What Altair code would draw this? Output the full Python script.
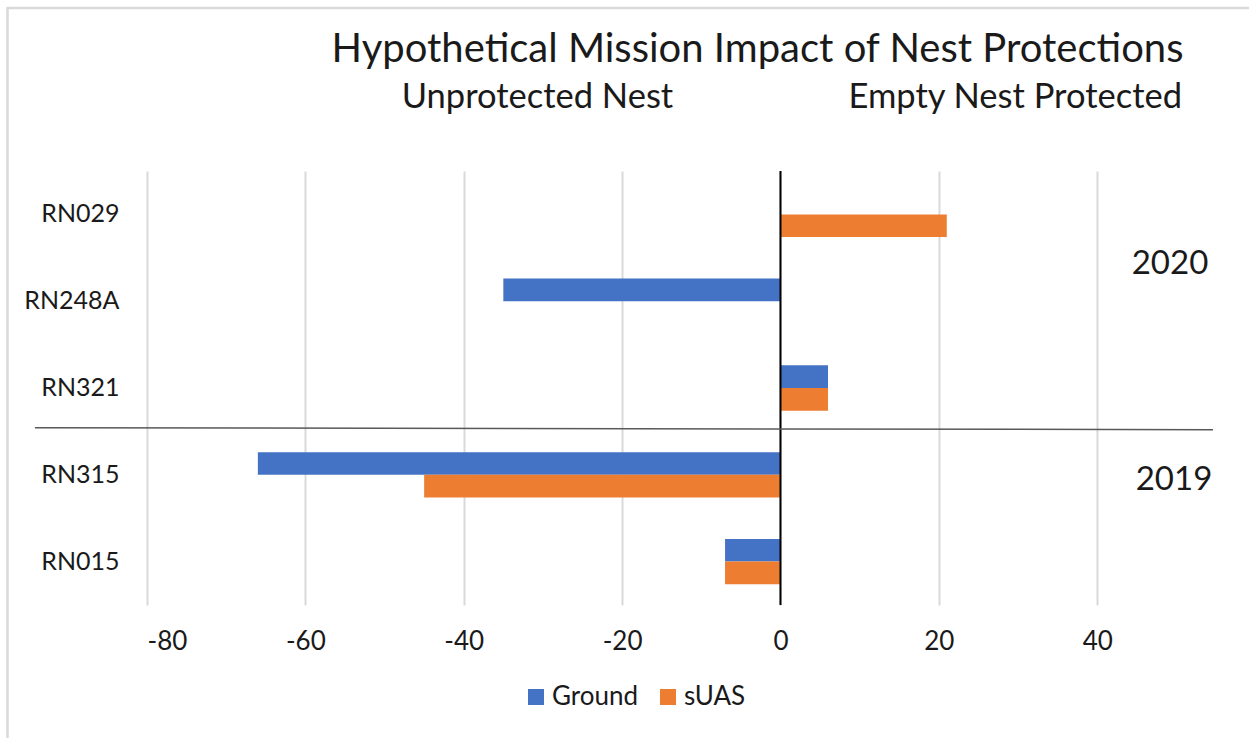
import altair as alt
import pandas as pd

# Nest IDs (top to bottom) and the mission impact for each survey method
nests = ["RN029", "RN248A", "RN321", "RN315", "RN015"]
ground = [0, -35, 6, -66, -7]
suas = [21, 0, 6, -45, -7]
series = ["Ground", "sUAS"]
colors = ["#4472C4", "#ED7D31"]
x_ticks = [-80, -60, -40, -20, 0, 20, 40]

title_text = "Hypothetical Mission Impact of Nest Protections"
left_note = "Unprotected Nest"
right_note = "Empty Nest Protected"
years = ["2020", "2019"]

FONT = "Lato"
INK = "#1a1a1a"
W, H = 1069, 434
LEFT, TOP = 147, 171

rows = []
for n, g, s in zip(nests, ground, suas):
    rows.append({"Nest": n, "Series": "Ground", "Value": g})
    rows.append({"Nest": n, "Series": "sUAS", "Value": s})
df = pd.DataFrame(rows)
one = pd.DataFrame({"k": [0]})

bars = alt.Chart(df).mark_bar().encode(
    y=alt.Y(
        "Nest:N",
        sort=nests,
        scale=alt.Scale(paddingInner=0.4776, paddingOuter=0.2388),
        axis=alt.Axis(
            title=None, ticks=False, domain=False, grid=False,
            labelFont=FONT, labelFontSize=25, labelColor=INK, labelPadding=28,
        ),
    ),
    x=alt.X(
        "Value:Q",
        scale=alt.Scale(domain=[-80, 55], nice=False, zero=False),
        axis=alt.Axis(
            title=None, values=x_ticks, ticks=False, domain=False,
            grid=True, gridColor="#d9d9d9", gridWidth=2,
            labelExpr="toString(datum.value)",
            labelFont=FONT, labelFontSize=26, labelColor=INK,
            labelBaseline="middle", labelPadding=36,
        ),
    ),
    yOffset=alt.YOffset("Series:N", sort=series, scale=alt.Scale(domain=series)),
    color=alt.Color(
        "Series:N",
        scale=alt.Scale(domain=series, range=colors),
        legend=alt.Legend(
            title=None, orient="none", legendX=376, legendY=513,
            direction="horizontal", symbolType="square", symbolSize=256,
            symbolStrokeWidth=0, labelFont=FONT, labelFontSize=26,
            labelColor=INK, labelOffset=3, columnPadding=16, padding=0,
        ),
    ),
)

zero_line = alt.Chart(one).mark_rule(color="black", strokeWidth=2).encode(
    x=alt.datum(0)
)

# Divider between the 2020 and 2019 nests
divider = alt.Chart(one).mark_rule(color="#595959", strokeWidth=1.5).encode(
    x=alt.value(35 - LEFT), x2=alt.value(1213 - LEFT),
    y=alt.value(427.7 - TOP), y2=alt.value(429.7 - TOP),
)

# Chart frame (top and left edges)
frame_top = alt.Chart(one).mark_rule(color="#d9d9d9", strokeWidth=2.5).encode(
    x=alt.value(7 - LEFT), x2=alt.value(1249 - LEFT),
    y=alt.value(8 - TOP), y2=alt.value(8 - TOP),
)
frame_left = alt.Chart(one).mark_rule(color="#d9d9d9", strokeWidth=2.5).encode(
    x=alt.value(7.5 - LEFT), x2=alt.value(7.5 - LEFT),
    y=alt.value(7 - TOP), y2=alt.value(738 - TOP),
)


def label(text, x, y, size, align="center", baseline="alphabetic"):
    return alt.Chart(pd.DataFrame({"t": [text]})).mark_text(
        font=FONT, fontSize=size, color=INK, align=align, baseline=baseline
    ).encode(text="t:N", x=alt.value(x - LEFT), y=alt.value(y - TOP))


texts = [
    label(title_text, 757.5, 61.7, 40),
    label(left_note, 401.7, 108, 34.5, align="left"),
    label(right_note, 1182, 108, 34.5, align="right"),
    label(years[0], 1170, 264, 33, baseline="middle"),
    label(years[1], 1174, 480, 33, baseline="middle"),
]

chart = alt.layer(
    bars, zero_line, divider, frame_top, frame_left, *texts
).properties(
    width=W, height=H,
    padding={"left": LEFT, "top": TOP, "right": 1249 - LEFT - W, "bottom": 738 - TOP - H},
    autosize=alt.AutoSizeParams(type="none"),
    background="white",
).configure_view(stroke=None)

chart.save("out.html", embed_options={"renderer": "svg", "actions": False})
